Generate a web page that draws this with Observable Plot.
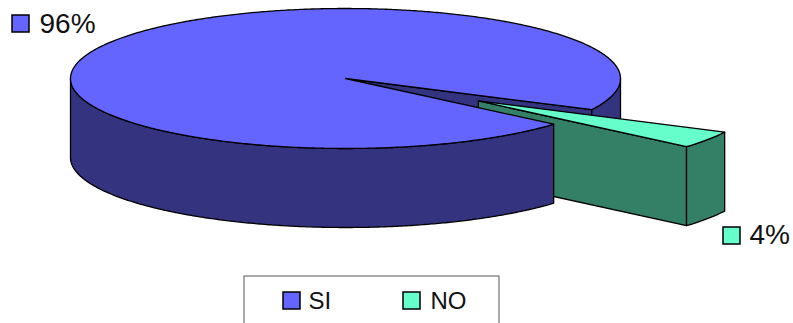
<!DOCTYPE html>
<html><head><meta charset="utf-8">
<script src="https://cdn.jsdelivr.net/npm/d3@7"></script>
<script src="https://cdn.jsdelivr.net/npm/@observablehq/plot@0.6"></script>
<style>body{margin:0;background:#fff} svg{display:block}</style>
</head><body><div id="chart"></div>
<script>
// ---- data ----
const categories = ["SI", "NO"];
const values = [96, 4];
const labels = ["96%", "4%"];
const topColors = ["#6464FF", "#66FFCC"];
const sideColors = ["#33337F", "#338066"];
const explode = [0, 0.58];

// ---- layout ----
const W = 793, H = 323;
const geo = {cx: 345, cy: 78, rx: 275, ry: 70, depth: 79, start: 40.8};
const labelLayout = [{kx: 12, ky: 15, tx: 39, ty: 24}, {kx: 723, ky: 227, tx: 749, ty: 235}];
const legendLayout = {x1: 244, x2: 499, y1: 276, y2: 340, items: [{kx: 283, tx: 308}, {kx: 403, tx: 430}], ky: 292, ty: 301};
const keySize = 17;
const font = "Liberation Sans, Arial, sans-serif";

const rad = d => d * Math.PI / 180;
const total = d3.sum(values);
let acc = geo.start;
const slices = categories.map((c, i) => {
  const a0 = acc, a1 = acc + values[i] / total * 360; acc = a1;
  const mid = rad((a0 + a1) / 2);
  return {c, i, a0, a1, ox: explode[i] * Math.cos(mid), oy: explode[i] * Math.sin(mid)};
});
const P = (s, a, r, dz) => ({
  x: geo.cx + (s.ox + r * Math.cos(rad(a))) * geo.rx,
  y: geo.cy + (s.oy + r * Math.sin(rad(a))) * geo.ry + dz
});
function arc(s, a0, a1, dz) {
  const n = Math.max(2, Math.ceil(Math.abs(a1 - a0) / 0.5));
  return d3.range(n + 1).map(k => P(s, a0 + (a1 - a0) * k / n, 1, dz));
}
const faces = [];
for (const s of slices) {
  const wallKeys = [];
  // outer wall, front-facing parts
  for (let k = 0; k < 3; k++) {
    const lo = Math.max(s.a0, k * 360), hi = Math.min(s.a1, k * 360 + 180);
    if (hi > lo) {
      const key = s.oy + Math.sin(rad((lo + hi) / 2));
      wallKeys.push(key);
      faces.push({points: [...arc(s, lo, hi, 0), ...arc(s, hi, lo, geo.depth)], fill: sideColors[s.i], key});
    }
  }
  // radial walls facing viewer
  for (const [a, vis] of [[s.a0, Math.cos(rad(s.a0)) < 0], [s.a1, Math.cos(rad(s.a1)) > 0]]) {
    if (!vis) continue;
    const key = s.oy + 0.5 * Math.sin(rad(a));
    wallKeys.push(key);
    faces.push({points: [P(s, a, 0, 0), P(s, a, 1, 0), P(s, a, 1, geo.depth), P(s, a, 0, geo.depth)], fill: sideColors[s.i], key});
  }
  faces.push({points: [P(s, 0, 0, 0), ...arc(s, s.a0, s.a1, 0)], fill: topColors[s.i], key: d3.max(wallKeys) + 0.001});
}
faces.sort((a, b) => a.key - b.key);

const faceMarks = faces.map(f => Plot.line(f.points, {
  x: "x", y: "y", curve: "linear-closed", fill: f.fill, stroke: "#000", strokeWidth: 1.3, strokeLinejoin: "round"
}));

const dl = categories.map((c, i) => ({c, label: labels[i], color: topColors[i], ...labelLayout[i]}));
const lg = categories.map((c, i) => ({c, color: topColors[i], ...legendLayout.items[i]}));

const chart = Plot.plot({
  width: W, height: H, margin: 0,
  x: {domain: [0, W], range: [0, W], axis: null},
  y: {domain: [0, H], range: [0, H], axis: null},
  marks: [
    ...faceMarks,
    // data labels
    Plot.rect(dl, {x1: "kx", x2: d => d.kx + keySize, y1: "ky", y2: d => d.ky + keySize, fill: "color", stroke: "#000", strokeWidth: 1.5}),
    Plot.text(dl, {x: "tx", y: "ty", text: "label", textAnchor: "start", lineAnchor: "middle", fontSize: 28, fontFamily: font, fill: "#111"}),
    // legend
    Plot.rect([legendLayout], {x1: "x1", x2: "x2", y1: "y1", y2: "y2", fill: "#fff", stroke: "#555", strokeWidth: 1}),
    Plot.rect(lg, {x1: "kx", x2: d => d.kx + keySize, y1: legendLayout.ky, y2: legendLayout.ky + keySize, fill: "color", stroke: "#000", strokeWidth: 1.5}),
    Plot.text(lg, {x: "tx", y: legendLayout.ty, text: "c", textAnchor: "start", lineAnchor: "middle", fontSize: 24, fontFamily: font, fill: "#111"})
  ]
});
document.getElementById("chart").appendChild(chart);
</script>
</body></html>
